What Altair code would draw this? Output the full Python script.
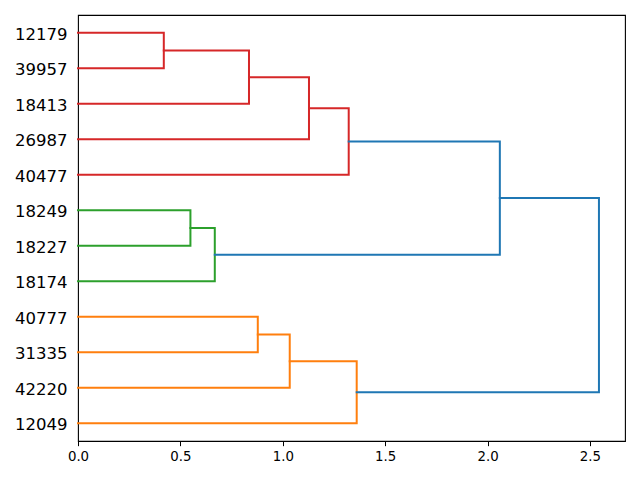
import altair as alt
import pandas as pd

# Leaves, bottom to top (scipy leaf order)
leaves = ["12049", "42220", "31335", "40777", "18174", "18227",
          "18249", "40477", "26987", "18413", "39957", "12179"]

# Merges: child a, child b, merge height, link colour group
merge_a = ["39957", "18413", "26987", "40477", "18227", "18174",
           "31335", "42220", "12049", "C5", "C8"]
merge_b = ["12179", "C0", "C1", "C2", "18249", "C4",
           "40777", "C6", "C7", "C3", "C9"]
merge_h = [0.419, 0.835, 1.128, 1.322, 0.549, 0.668,
           0.878, 1.034, 1.361, 2.060, 2.544]
merge_c = ["red", "red", "red", "red", "green", "green",
           "orange", "orange", "orange", "blue", "blue"]

x_ticks = [0.0, 0.5, 1.0, 1.5, 2.0, 2.5]

color_names = ["red", "green", "orange", "blue"]
color_hex = ["#d62728", "#2ca02c", "#ff7f0e", "#1f77b4"]

# Positions of nodes (leaf slots at 5, 15, ... as scipy does)
pos = {name: 5 + 10 * i for i, name in enumerate(leaves)}
hgt = {name: 0.0 for name in leaves}
rows = []
for k, (a, b, h, c) in enumerate(zip(merge_a, merge_b, merge_h, merge_c)):
    ya, yb = pos[a], pos[b]
    pts = [(hgt[a], ya), (h, ya), (h, yb), (hgt[b], yb)]
    for j, (xv, yv) in enumerate(pts):
        rows.append({"link": k, "ord": j, "d": xv, "i": yv, "grp": c})
    pos[f"C{k}"] = (ya + yb) / 2
    hgt[f"C{k}"] = h

df = pd.DataFrame(rows)
n = len(leaves)
xmax = max(merge_h) * 1.05

label_arr = "[" + ",".join(f"'{s}'" for s in leaves) + "]"

chart = alt.Chart(df).mark_line(
    strokeWidth=2, strokeCap="square", strokeJoin="miter"
).encode(
    x=alt.X("d:Q", scale=alt.Scale(domain=[0, xmax], nice=False, zero=False),
            axis=alt.Axis(values=x_ticks, format=".1f", title=None, grid=False,
                          domain=False, ticks=True, tickSize=4.67, tickColor="black",
                          tickWidth=1, labelColor="black", labelFontSize=13.33,
                          labelFont="DejaVu Sans", labelPadding=3.5,
                          labelFlush=False)),
    y=alt.Y("i:Q", scale=alt.Scale(domain=[0, 10 * n], nice=False, zero=False),
            axis=alt.Axis(values=[5 + 10 * i for i in range(n)],
                          labelExpr=f"{label_arr}[floor((datum.value-5)/10)]",
                          title=None, grid=False, domain=False, ticks=False,
                          tickSize=0, labelColor="black", labelFontSize=16.5,
                          labelFont="DejaVu Sans", labelPadding=11,
                          labelBaseline="middle", labelOffset=1.5)),
    color=alt.Color("grp:N", scale=alt.Scale(domain=color_names, range=color_hex),
                    legend=None),
    detail="link:N",
    order="ord:Q",
).properties(
    width=547, height=426,
    background="white",
    autosize=alt.AutoSizeParams(type="none"),
    padding={"left": 70, "top": 7, "right": 7, "bottom": 31},
).configure_view(
    stroke="black", strokeWidth=1.1
)

chart.save("out.html", embed_options={"renderer": "svg", "actions": False})
